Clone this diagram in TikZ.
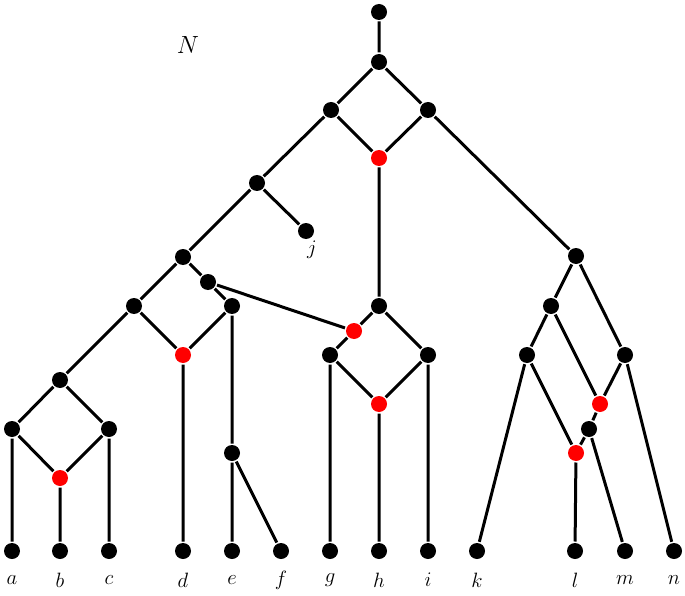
\documentclass[tikz,border=0pt]{standalone}
\begin{document}
\begin{tikzpicture}[x=1pt,y=-1pt,line width=3pt,
  v/.style={circle,fill=black,inner sep=0pt,minimum size=16pt},
  rv/.style={circle,fill=red,inner sep=0pt,minimum size=16pt},
  lab/.style={font=\fontsize{22}{24}\selectfont\itshape}]
\useasboundingbox (0,0) rectangle (685,596);
\node[lab,font=\fontsize{40}{44}\selectfont\itshape] (Nl) at (188,45) {$N$};
\node[v] (t) at (379,12) {}; \node[v] (r) at (379,62) {};
\node[v] (A) at (331,110) {}; \node[v] (B) at (428,110) {};
\node[rv] (r1) at (379,158) {};
\node[v] (C) at (257,183) {}; \node[v] (j) at (306,231) {};
\node[v] (D) at (183,257) {}; \node[v] (F) at (208,282) {};
\node[v] (E) at (134,306) {}; \node[v] (G) at (232,306) {};
\node[rv] (r2) at (183,355) {};
\node[v] (H) at (60,380) {}; \node[v] (I) at (12,429) {}; \node[v] (J) at (109,429) {};
\node[rv] (r3) at (60,478) {};
\node[v] (em) at (232,453) {};
\node[v] (P) at (379,306) {}; \node[rv] (r6) at (354,331) {};
\node[v] (R) at (330,355) {}; \node[v] (Q) at (428,355) {}; \node[rv] (r7) at (379,404) {};
\node[v] (K) at (576,256) {}; \node[v] (L) at (551,306) {}; \node[v] (M) at (625,355) {};
\node[v] (Nn) at (527,355) {}; \node[rv] (r4) at (600,404) {}; \node[v] (O) at (589,429) {};
\node[rv] (r5) at (576,453) {};
\foreach \n/\x in {a/12,b/60,c/109,d/183,e/232,f/281,g/330,h/379,i/428,k/477,l/575,m/625,n/674}{
  \node[v] (\n) at (\x,551) {};
  \node[lab] (lab\n) at (\x,580) {$\n$};}
\node[lab] (labj) at (312,250) {$j$};
\draw (t)--(r) (r)--(A) (r)--(B) (A)--(r1) (B)--(r1) (A)--(C) (C)--(j) (C)--(D)
 (D)--(E) (D)--(F) (F)--(G) (E)--(H) (E)--(r2) (G)--(r2) (r2)--(d) (G)--(em) (em)--(e) (em)--(f)
 (H)--(I) (H)--(J) (I)--(r3) (J)--(r3) (I)--(a) (r3)--(b) (J)--(c)
 (r1)--(P) (P)--(r6) (F)--(r6) (r6)--(R) (P)--(Q) (R)--(r7) (Q)--(r7) (R)--(g) (r7)--(h) (Q)--(i)
 (B)--(K) (K)--(L) (K)--(M) (L)--(Nn) (L)--(r4) (M)--(r4) (M)--(n) (Nn)--(k) (Nn)--(r5)
 (r4)--(O) (O)--(r5) (O)--(m) (r5)--(l);
\end{tikzpicture}
\end{document}
